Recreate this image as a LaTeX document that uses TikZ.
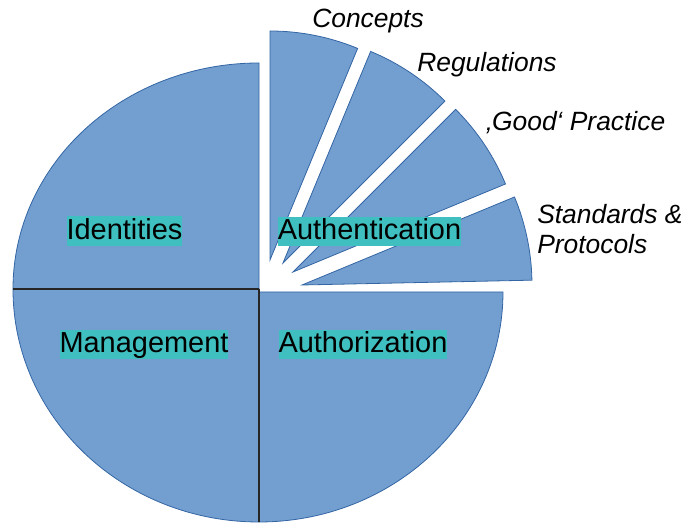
\documentclass[tikz,border=0pt]{standalone}
\usepackage{fontspec}
\setmainfont{Liberation Sans}
\definecolor{piefill}{HTML}{729FCF}
\definecolor{pieedge}{HTML}{3465A4}
\definecolor{marker}{HTML}{3FBFBF}
\tikzset{
  slice/.style={fill=piefill, draw=pieedge, line width=0.6pt},
  divider/.style={draw=black!85, line width=1pt},
  areatag/.style={fill=marker, inner xsep=0pt, inner ysep=0.3pt, text height=16.8pt, text depth=4.6pt, font=\fontsize{21.7}{26}\selectfont},
  sidetag/.style={inner sep=0pt, font=\fontsize{19.8}{22.5}\selectfont\itshape}
}
\begin{document}
\begin{tikzpicture}[x=0.75pt, y=0.75pt]
  \useasboundingbox (0,0) rectangle (687,523);
  % quarters of the pie
  \coordinate (ctr) at (259,234);
  \coordinate (west) at (13,234);
  \coordinate (south) at (259,1);
  \draw[slice] (ctr) -- (west) arc[start angle=180, end angle=90, x radius=246, y radius=226] -- cycle;
  \draw[slice] (ctr) -- (west) arc[start angle=180, end angle=270, x radius=246, y radius=233] -- cycle;
  \draw[slice] (259,231) -- (503,231) arc[start angle=0, end angle=-90, x radius=244, y radius=230] -- cycle;
  % authentication, pulled out in four pieces
  \draw[slice] (270,263) -- ++(90:229) arc[start angle=90, end angle=67.5, radius=229] -- cycle;
  \draw[slice] (283,260) -- ++(67.5:229) arc[start angle=67.5, end angle=45, radius=229] -- cycle;
  \draw[slice] (293,251) -- ++(45:230) arc[start angle=45, end angle=22.5, radius=230] -- cycle;
  \draw[slice] (302,238) -- ++(22.5:230) arc[start angle=22.5, end angle=1.2, radius=230] -- cycle;
  \draw[divider] (west) -- (ctr);
  \draw[divider] (ctr) -- (south);
  % labels
  \node[areatag] (ident) at (124.5,292) {Identities};
  \node[areatag] (authn) at (369.5,291.5) {Authentication};
  \node[areatag] (mgmt) at (144,178.5) {Management};
  \node[areatag] (authz) at (363,178.5) {Authorization};
  \node[sidetag, anchor=base west] (concepts) at (312,495) {Concepts};
  \node[sidetag, anchor=base west] (regul) at (417,451) {Regulations};
  \node[sidetag, anchor=base west] (practice) at (486,392) {‚Good‘ Practice};
  \node[sidetag, anchor=north west, align=left] (standards) at (537,319) {Standards \&\\Protocols};
\end{tikzpicture}
\end{document}
